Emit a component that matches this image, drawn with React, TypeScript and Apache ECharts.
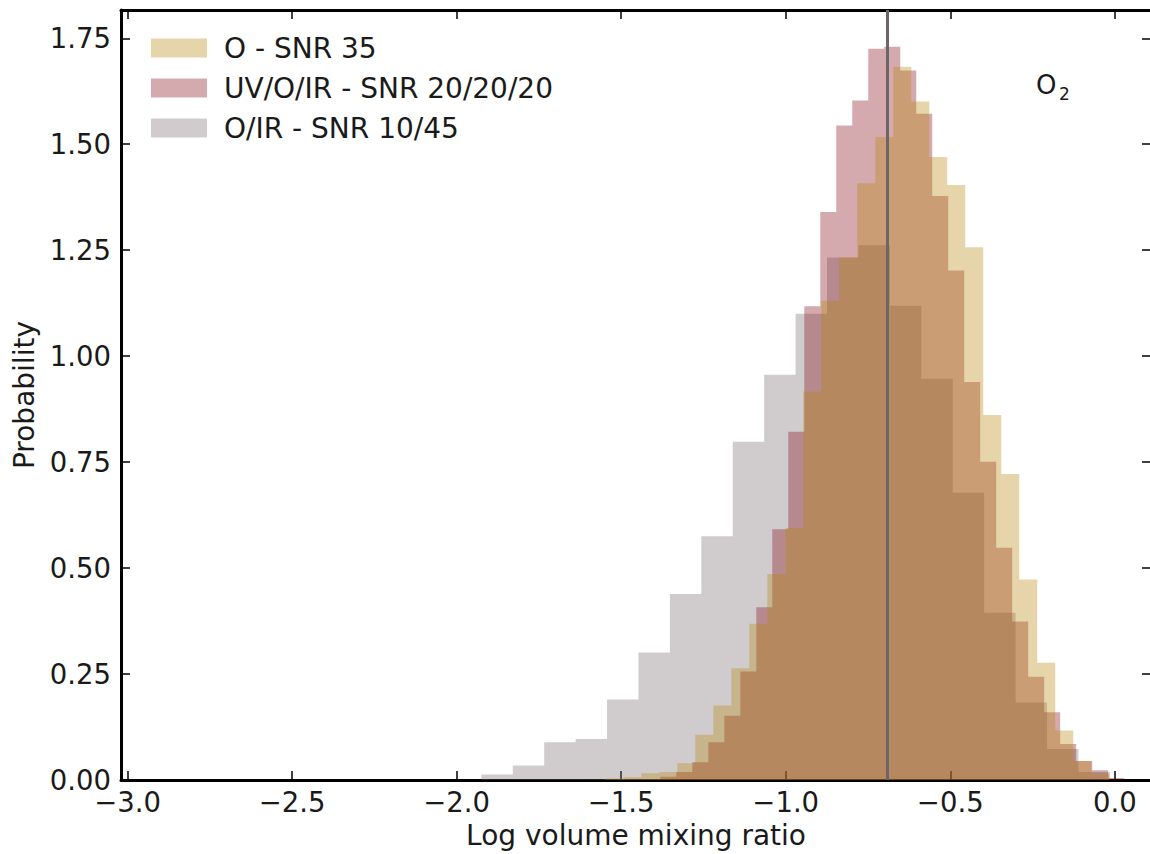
import React, { useEffect, useRef } from "react";
import * as echarts from "echarts";

// ---- data ----
const seriesNames = ["O - SNR 35", "UV/O/IR - SNR 20/20/20", "O/IR - SNR 10/45"];
const xTicks = [-3.0, -2.5, -2.0, -1.5, -1.0, -0.5, 0.0];
const yTicks = [0, 0.25, 0.5, 0.75, 1.0, 1.25, 1.5, 1.75];

// O - SNR 35 (tan)
const tanBinStart = -1.548;
const tanBinWidth = 0.05468;
const tanValues = [
  0.004, 0.007, 0.016, 0.019, 0.04, 0.107, 0.176, 0.264, 0.369, 0.486, 0.595, 0.917, 1.131, 1.233,
  1.408, 1.517, 1.683, 1.601, 1.47, 1.404, 1.257, 0.861, 0.722, 0.473, 0.277, 0.117, 0.045, 0.015,
];

// UV/O/IR - SNR 20/20/20 (red)
const redBinStart = -1.381;
const redBinWidth = 0.0486;
const redValues = [
  0.008, 0.019, 0.042, 0.089, 0.152, 0.256, 0.408, 0.592, 0.822, 1.118, 1.34, 1.544, 1.603, 1.725,
  1.73, 1.674, 1.572, 1.378, 1.202, 0.939, 0.751, 0.548, 0.374, 0.244, 0.16, 0.085, 0.045, 0.023,
  0.005,
];

// O/IR - SNR 10/45 (grey)
const greyBinStart = -1.925;
const greyBinWidth = 0.0955;
const greyValues = [
  0.013, 0.0345, 0.089, 0.097, 0.19, 0.301, 0.439, 0.575, 0.798, 0.9565, 1.1, 1.233, 1.262, 1.119,
  0.947, 0.678, 0.395, 0.183, 0.0735, 0.019,
];

const trueValue = -0.687;
const moleculeLabel = "O";
const moleculeSub = "2";

// ---- styles ----
const FONT = "DejaVu Sans";
const TEXT = "#1a1a1a";
const colTan = "rgb(184,134,11)";
const colRed = "rgb(132,12,24)";
const colGrey = "rgb(121,109,115)";
const ALPHA = 0.35;

function histPoints(start: number, width: number, values: number[]) {
  const pts: number[][] = [[start, 0]];
  values.forEach((v, i) => pts.push([start + i * width, v]));
  pts.push([start + values.length * width, 0]);
  return pts;
}

function histSeries(name: string, color: string, pts: number[][], extra: any = {}) {
  return {
    name,
    type: "line",
    step: "end",
    data: pts,
    symbol: "none",
    color,
    lineStyle: { width: 0, opacity: 0 },
    areaStyle: { color, opacity: ALPHA, origin: "start" },
    silent: true,
    ...extra,
  };
}

const fmtX = (v: number) => (v < 0 ? "\u2212" : "") + Math.abs(v).toFixed(1);
const fmtY = (v: number) => v.toFixed(2);

export default function App() {
  const ref = useRef<HTMLDivElement>(null);

  useEffect(() => {
    if (!ref.current) return;
    const chart = echarts.init(ref.current, undefined, { renderer: "svg" });

    const xMin = -3.02;
    const xMax = 0.11;
    const yMax = 1.8167;

    const baseAxisLine = { show: true, onZero: false, lineStyle: { color: "#000", width: 3 } };
    const baseTick = { show: true, inside: true, length: 9, lineStyle: { color: "#000", width: 1.5 } };
    const tickFont = 27.5;
    const textFont = 28;

    const option: any = {
      animation: false,
      backgroundColor: "#fff",
      textStyle: { fontFamily: FONT },
      grid: { left: 121, top: 10, width: 1030, height: 773, containLabel: false },
      legend: {
        orient: "vertical",
        left: 146,
        top: 29,
        icon: "rect",
        itemWidth: 56,
        itemHeight: 19,
        itemGap: 12,
        selectedMode: false,
        textStyle: { fontSize: textFont, color: TEXT, fontFamily: FONT, padding: [0, 0, 0, 12] },
        data: [
          { name: seriesNames[0], itemStyle: { color: "rgba(184,134,11,0.35)" } },
          { name: seriesNames[1], itemStyle: { color: "rgba(132,12,24,0.35)" } },
          { name: seriesNames[2], itemStyle: { color: "rgba(121,109,115,0.35)" } },
        ],
      },
      xAxis: [
        {
          type: "value",
          position: "bottom",
          min: xMin,
          max: xMax,
          axisLine: baseAxisLine,
          axisTick: { ...baseTick, customValues: xTicks },
          axisLabel: {
            customValues: xTicks,
            formatter: fmtX,
            fontSize: tickFont,
            color: TEXT,
            fontFamily: FONT,
            margin: 8,
          },
          splitLine: { show: false },
          name: "Log volume mixing ratio",
          nameLocation: "middle",
          nameGap: 35,
          nameTextStyle: { fontSize: textFont, color: TEXT, fontFamily: FONT },
        },
        {
          type: "value",
          position: "top",
          min: xMin,
          max: xMax,
          axisLine: baseAxisLine,
          axisTick: { ...baseTick, customValues: xTicks },
          axisLabel: { show: false },
          splitLine: { show: false },
        },
      ],
      yAxis: [
        {
          type: "value",
          position: "left",
          min: 0,
          max: yMax,
          axisLine: baseAxisLine,
          axisTick: { ...baseTick, customValues: yTicks },
          axisLabel: {
            customValues: yTicks,
            formatter: fmtY,
            fontSize: tickFont,
            color: TEXT,
            fontFamily: FONT,
            margin: 10,
          },
          splitLine: { show: false },
          name: "Probability",
          nameLocation: "middle",
          nameGap: 80,
          nameTextStyle: { fontSize: textFont, color: TEXT, fontFamily: FONT },
        },
        {
          type: "value",
          position: "right",
          min: 0,
          max: yMax,
          axisLine: baseAxisLine,
          axisTick: { ...baseTick, customValues: yTicks },
          axisLabel: { show: false },
          splitLine: { show: false },
        },
      ],
      series: [
        histSeries(seriesNames[2], colGrey, histPoints(greyBinStart, greyBinWidth, greyValues)),
        histSeries(seriesNames[1], colRed, histPoints(redBinStart, redBinWidth, redValues)),
        histSeries(seriesNames[0], colTan, histPoints(tanBinStart, tanBinWidth, tanValues), {
          markLine: {
            silent: true,
            symbol: "none",
            label: { show: false },
            lineStyle: { color: "#6e6569", width: 3, type: "solid", opacity: 1 },
            data: [{ xAxis: trueValue }],
          },
        }),
      ],
      graphic: [
        {
          type: "text",
          left: 1036,
          top: 72,
          style: { text: moleculeLabel, fontSize: 26, fill: TEXT, fontFamily: FONT },
        },
        {
          type: "text",
          left: 1059,
          top: 85,
          style: { text: moleculeSub, fontSize: 17, fill: TEXT, fontFamily: FONT },
        },
      ],
    };

    chart.setOption(option);
    return () => chart.dispose();
  }, []);

  return (
    <div style={{ position: "fixed", left: 0, top: 0, width: 1150, height: 854, overflow: "hidden", background: "#fff" }}>
      <div ref={ref} style={{ width: 1160, height: 854 }} />
    </div>
  );
}
